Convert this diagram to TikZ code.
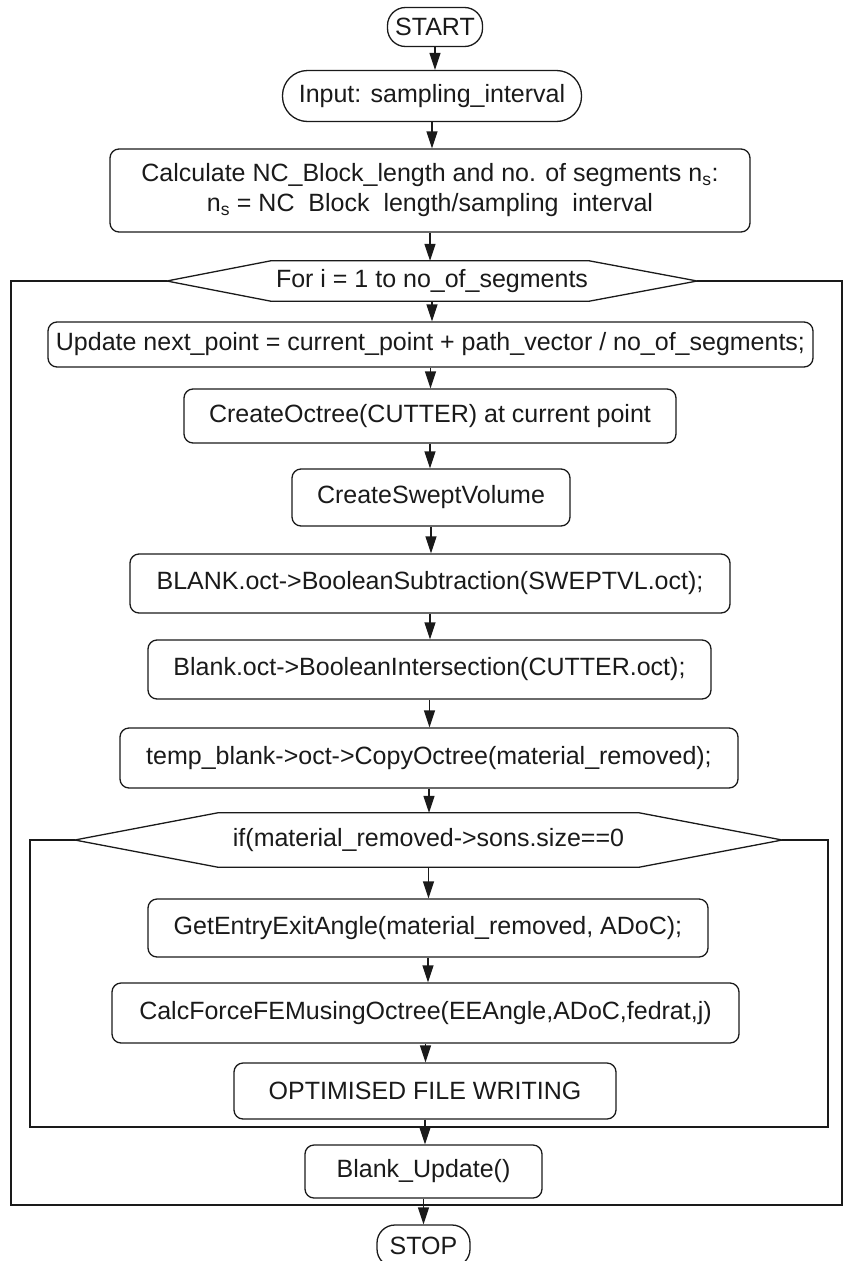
\documentclass[tikz,border=0pt]{standalone}
\usepackage{fontspec}
\setmainfont{Liberation Sans}
\usetikzlibrary{arrows.meta}
\definecolor{ink}{HTML}{1A1A1A}
\tikzset{
  x=1pt, y=-1pt,
  every node/.style={font=\fontsize{25}{30}\selectfont, text=ink, inner sep=0pt, align=center},
  procbox/.style={draw=ink, line width=1.3pt, rounded corners=9pt},
  terminal/.style={draw=ink, line width=1.3pt, rounded corners=18pt},
  flowline/.style={draw=ink, line width=1.3pt},
  arr/.style={flowline, -{Triangle[length=17pt,width=11pt]}},
}
\begin{document}
\begin{tikzpicture}
\useasboundingbox (0,0) rectangle (843,1261);

% terminals and input
\node[terminal, minimum width=95, minimum height=39] (start) at (435,27) {START};
\node[draw=ink, line width=1.3pt, rounded corners=25pt, minimum width=299, minimum height=51] (input) at (432,96) {Input: sampling\_interval};
\node[procbox, minimum width=640, minimum height=83] (calc) at (430,190.5)
  {Calculate NC\_Block\_length and no. of segments n\textsubscript{s}:\\
   n\textsubscript{s} = NC\ \ Block\ \ length/sampling\ \ interval};

% loop header (hexagon)
\node[minimum width=530, minimum height=40] (for) at (432,281) {For i = 1 to no\_of\_segments};
\draw[flowline] (for.west) -- ([xshift=104]for.north west) -- ([xshift=-108]for.north east)
  -- (for.east) -- ([xshift=-108]for.south east) -- ([xshift=104]for.south west) -- cycle;

% loop body
\node[procbox, minimum width=765, minimum height=45] (update) at (430.5,344.5)
  {Update next\_point = current\_point + path\_vector / no\_of\_segments;};
\node[procbox, minimum width=492, minimum height=54] (octree) at (430,416)
  {CreateOctree(CUTTER) at current point};
\node[procbox, minimum width=278, minimum height=57] (swept) at (431,497.5) {CreateSweptVolume};
\node[procbox, minimum width=600, minimum height=59] (sub) at (430,583.5)
  {BLANK.oct->BooleanSubtraction(SWEPTVL.oct);};
\node[procbox, minimum width=563, minimum height=59] (inter) at (429.5,669.5)
  {Blank.oct->BooleanIntersection(CUTTER.oct);};
\node[procbox, minimum width=618, minimum height=60] (copy) at (429,758)
  {temp\_blank->oct->CopyOctree(material\_removed);};

% condition (hexagon)
\node[minimum width=707, minimum height=54] (cond) at (428.5,840) {if(material\_removed->sons.size==0};
\draw[flowline] (cond.west) -- ([xshift=143]cond.north west) -- ([xshift=-143]cond.north east)
  -- (cond.east) -- ([xshift=-143]cond.south east) -- ([xshift=143]cond.south west) -- cycle;

\node[procbox, minimum width=560, minimum height=58] (angle) at (428,928)
  {GetEntryExitAngle(material\_removed, ADoC);};
\node[procbox, minimum width=627, minimum height=60] (force) at (425.5,1013)
  {CalcForceFEMusingOctree(EEAngle,ADoC,fedrat,j)};
\node[procbox, minimum width=382, minimum height=56] (write) at (425,1091) {OPTIMISED FILE WRITING};
\node[procbox, minimum width=237, minimum height=53] (bupd) at (423.5,1171.5) {Blank\_Update()};
\node[terminal, minimum width=93, minimum height=42] (stop) at (423.5,1246) {STOP};

% frames of the loop and of the condition
\coordinate (oTL) at (11,281);
\coordinate (oBL) at (11,1205);
\coordinate (oBR) at (842,1205);
\coordinate (oTR) at (842,281);
\draw[flowline] (for.west) -- (oTL) -- (oBL) -- (oBR) -- (oTR) -- (for.east);
\coordinate (iTL) at (30,840);
\coordinate (iBL) at (30,1127);
\coordinate (iBR) at (828,1127);
\coordinate (iTR) at (828,840);
\draw[flowline] (cond.west) -- (iTL) -- (iBL) -- (iBR) -- (iTR) -- (cond.east);

% connectors
\draw[arr] (start.south) -- (start.south |- input.north);
\draw[arr] (input.south) -- (input.south |- calc.north);
\draw[arr] (calc.south) -- (calc.south |- for.north);
\draw[arr] (for.south) -- (for.south |- update.north);
\draw[arr] (update.south) -- (update.south |- octree.north);
\draw[arr] (octree.south) -- (octree.south |- swept.north);
\draw[arr] (swept.south) -- (swept.south |- sub.north);
\draw[arr] (sub.south) -- (sub.south |- inter.north);
\draw[arr] (inter.south) -- (inter.south |- copy.north);
\draw[arr] (copy.south) -- (copy.south |- cond.north);
\draw[arr] (cond.south) -- (cond.south |- angle.north);
\draw[arr] (angle.south) -- (angle.south |- force.north);
\draw[arr] (force.south) -- (force.south |- write.north);
\draw[arr] (write.south) -- (write.south |- bupd.north);
\draw[arr] (bupd.south) -- (bupd.south |- stop.north);
\end{tikzpicture}
\end{document}
